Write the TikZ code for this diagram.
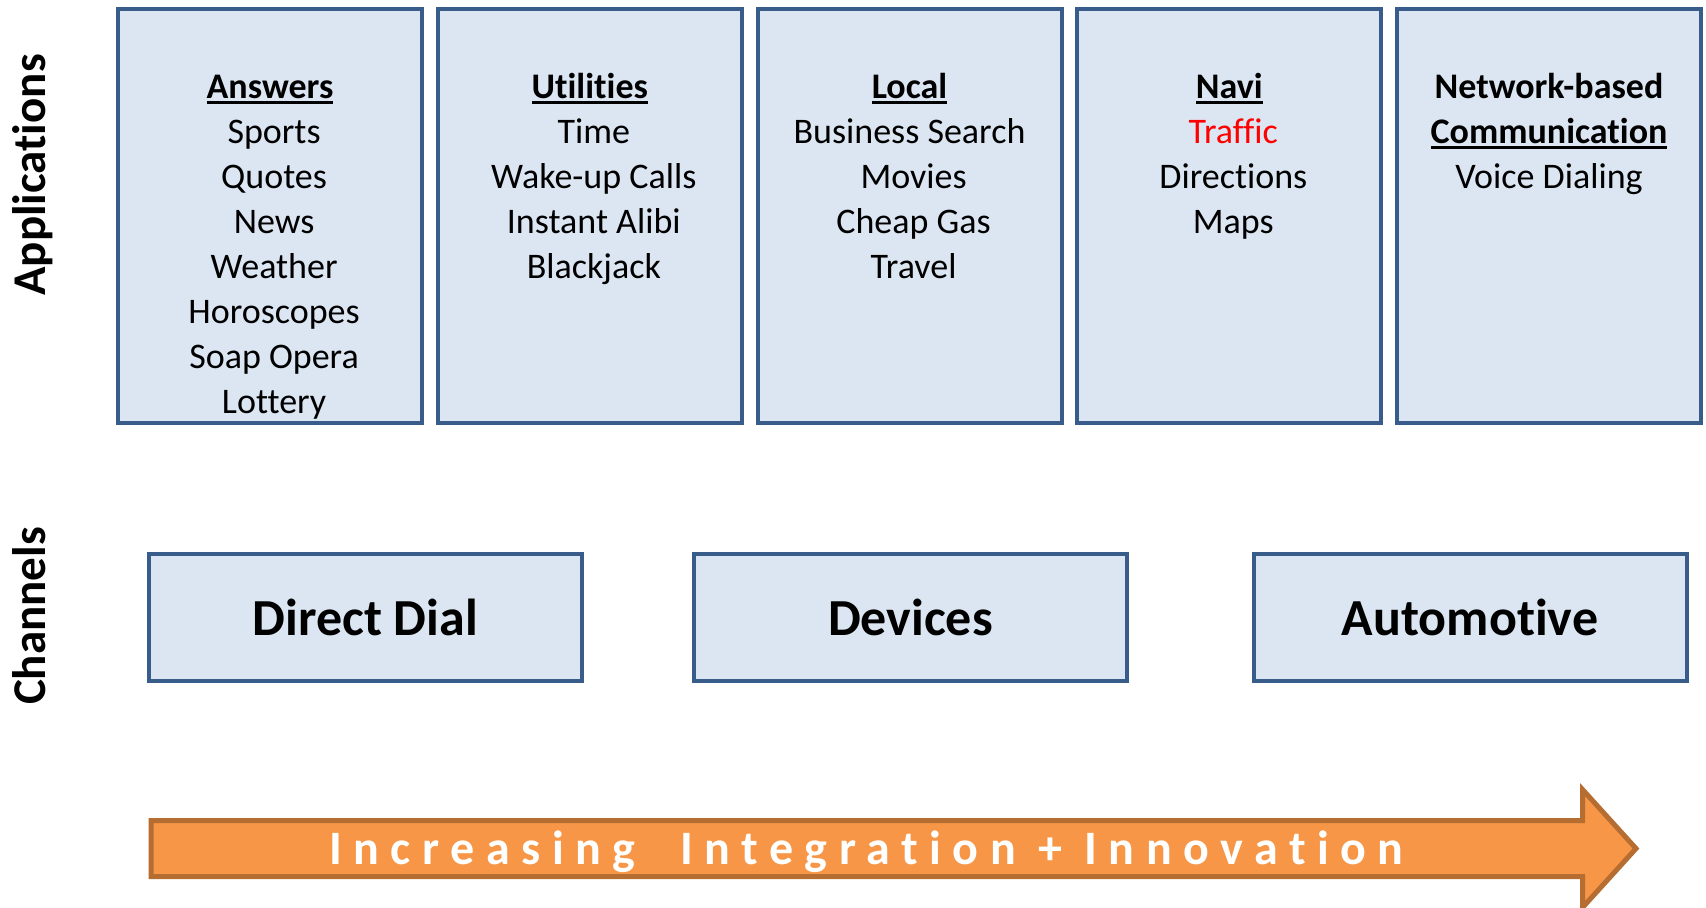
\documentclass[tikz,border=0pt]{standalone}
\usepackage{fontspec}
\setmainfont{Carlito}[Ligatures=NoCommon]
\newfontfamily\trackfont{Carlito}[LetterSpace=24, Ligatures=NoCommon]
\usepackage{xcolor}
\usetikzlibrary{
    calc,
    positioning
}
\definecolor{boxfill}{HTML}{DCE6F2}
\definecolor{boxline}{HTML}{385D8A}
\definecolor{arrowfill}{HTML}{F79646}
\definecolor{arrowline}{HTML}{B66D31}
\newsavebox\headingbox
\newcommand\ulhead[1]{\sbox\headingbox{\textbf{#1}}\leavevmode\rlap{\rule[-2.7pt]{\wd\headingbox}{1.7pt}}\usebox\headingbox}

\begin{document}
\begin{tikzpicture}[x=0.5pt, y=-0.5pt,
        appbox/.style={draw=boxline, fill=boxfill, line width=2pt, inner sep=0pt,
            minimum width=152pt, minimum height=207pt},
        chanbox/.style={draw=boxline, fill=boxfill, line width=2pt, inner sep=0pt,
            minimum width=216.5pt, minimum height=63.5pt,
            font=\bfseries\fontsize{26pt}{31pt}\selectfont},
        applist/.style={align=center, inner sep=0pt,
            font=\fontsize{18pt}{22.5pt}\selectfont},
        sidelabel/.style={rotate=90, anchor=base, inner sep=0pt,
            font=\bfseries\fontsize{23.5pt}{28pt}\selectfont},
        trend/.style={draw=arrowline, fill=arrowfill, line width=2.5pt, line join=miter}
    ]
                        \useasboundingbox (0,0) rectangle (1706,907);

                        \node[sidelabel] (applbl) at (45, 175) {Applications};
                        \node[sidelabel] (chanlbl) at (45, 616) {Channels};

                        \node[appbox] (answers) at (270, 216) {};
                        \node[appbox] (utilities) at (589.75, 216) {};
                        \node[appbox] (local) at (909.5, 216) {};
                        \node[appbox] (navi) at (1229.25, 216) {};
                        \node[appbox] (network) at (1549, 216) {};

                        \node[applist, below=30pt of answers.north] (answerslist)
                            {\strut\ulhead{Answers}\\ \ Sports\\ \ Quotes\\ \ News\\ \ Weather\\ \ Horoscopes\\ \ Soap Opera\\ \ Lottery};
                        \node[applist, below=30pt of utilities.north] (utilitieslist)
                            {\strut\ulhead{Utilities}\\ \ Time\\ \ Wake-up Calls\\ \ Instant Alibi\\ \ Blackjack};
                        \node[applist, below=30pt of local.north] (locallist)
                            {\strut\ulhead{Local}\\ Business Search\\ \ Movies\\ \ Cheap Gas\\ \ Travel};
                        \node[applist, below=30pt of navi.north] (navilist)
                            {\strut\ulhead{Navi}\\ \ \textcolor{red}{Traffic}\\ \ Directions\\ \ Maps};
                        \node[applist, below=30pt of network.north] (networklist)
                            {\strut\textbf{Network-based}\\ \ulhead{Communication}\\ Voice Dialing};

                        \node[chanbox] (dial) at (365.5, 617.5) {Direct Dial};
                        \node[chanbox] (devices) at (910.5, 617.5) {Devices};
                        \node[chanbox] (auto) at (1470, 617.5) {Automotive};

                        \draw[trend] (151, 820.5) -- (1582.5, 820.5) -- (1582.5, 789.5) -- (1636, 848.5)
                            -- (1582.5, 907.5) -- (1582.5, 876.5) -- (151, 876.5) -- cycle;
                        \node[anchor=base west, inner sep=0pt, text=white,
                            font=\trackfont\bfseries\fontsize{24pt}{28pt}\selectfont] (trendlbl) at (329, 864)
                            {Increasing\ \ Integration + Innovation};
                    \end{tikzpicture}
\end{document}
